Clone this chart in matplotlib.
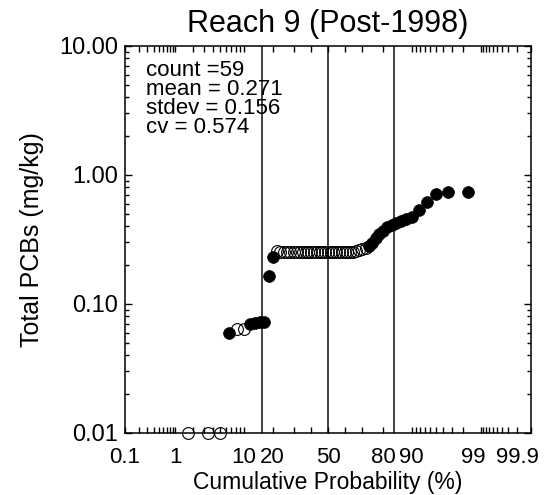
import numpy as np
import matplotlib
matplotlib.use('Agg')
import matplotlib.pyplot as plt
import matplotlib.ticker as ticker
import matplotlib.transforms as mtransforms
from statistics import NormalDist

# data (59 samples, sorted)
conc = [0.010, 0.010, 0.010, 0.060, 0.064, 0.064, 0.070, 0.071, 0.072, 0.073,
        0.164, 0.232, 0.258, 0.255, 0.255, 0.255, 0.255, 0.255, 0.255, 0.255,
        0.255, 0.255, 0.255, 0.255, 0.255, 0.255, 0.255, 0.255, 0.255, 0.255,
        0.255, 0.255, 0.255, 0.255, 0.255, 0.255, 0.255, 0.255, 0.255, 0.257,
        0.261, 0.266, 0.273, 0.284, 0.299, 0.322, 0.349, 0.371, 0.392, 0.410,
        0.428, 0.442, 0.455, 0.475, 0.534, 0.613, 0.708, 0.733, 0.743]
# 1 = detected (filled), 0 = non-detect (open)
detected = [0, 0, 0, 1, 0, 0, 1, 1, 1, 1,
            1, 1, 0, 0, 0, 0, 0, 0, 0, 0,
            0, 0, 0, 0, 0, 0, 0, 0, 0, 0,
            0, 0, 0, 0, 0, 0, 0, 0, 0, 0,
            0, 0, 0, 1, 1, 1, 1, 1, 1, 1,
            1, 1, 1, 1, 1, 1, 1, 1, 1]

stats_lines = ['count =59', 'mean = 0.271', 'stdev = 0.156', 'cv = 0.574']
sigma_lines = [15.87, 50.0, 84.13]

x_major = [0.1, 1, 10, 20, 50, 80, 90, 99, 99.9]
x_major_labels = ['0.1', '1', '10', '20', '50', '80', '90', '99', '99.9']
x_minor = [0.2, 0.3, 0.4, 0.5, 0.6, 0.7, 0.8, 0.9, 2, 3, 4, 5, 6, 7, 8, 9,
           30, 40, 60, 70, 91, 92, 93, 94, 95, 96, 97, 98,
           99.1, 99.2, 99.3, 99.4, 99.5, 99.6, 99.7, 99.8]
y_major = [0.01, 0.1, 1, 10]

nd = NormalDist()


def prob_forward(p):
    p = np.clip(np.asarray(p, dtype=float) / 100.0, 1e-9, 1 - 1e-9)
    return np.vectorize(nd.inv_cdf)(p)


def prob_inverse(z):
    return np.vectorize(nd.cdf)(np.asarray(z, dtype=float)) * 100.0


plt.rcParams['font.family'] = ['Liberation Sans', 'DejaVu Sans']

n = len(conc)
conc = np.array(conc)
detected = np.array(detected, dtype=bool)
# Weibull plotting position i/(n+1) in percent
prob = np.arange(1, n + 1) / (n + 1) * 100.0

fig = plt.figure(figsize=(5.57, 4.95), dpi=100)
ax = fig.add_axes([0.2244, 0.1253, 0.7289, 0.7818])

ax.set_xscale('function', functions=(prob_forward, prob_inverse))
ax.set_yscale('log')
ax.set_xlim(0.1, 99.9)
ax.set_ylim(0.01, 10)

for xv in sigma_lines:
    ax.axvline(xv, color='#333333', lw=1.3, zorder=1)

# non-detects open, detects filled
ax.plot(prob[~detected], conc[~detected], 'o', ms=8.5, mfc='none', mec='black',
        mew=0.8, clip_on=False, zorder=3)
ax.plot(prob[detected], conc[detected], 'o', ms=8.5, mfc='black', mec='black',
        mew=0.5, clip_on=False, zorder=4)

ax.xaxis.set_major_locator(ticker.FixedLocator(x_major))
ax.xaxis.set_major_formatter(ticker.FixedFormatter(x_major_labels))
ax.xaxis.set_minor_locator(ticker.FixedLocator(x_minor))
ax.xaxis.set_minor_formatter(ticker.NullFormatter())

ax.yaxis.set_major_locator(ticker.FixedLocator(y_major))
ax.yaxis.set_major_formatter(ticker.FormatStrFormatter('%.2f'))
ax.yaxis.set_minor_locator(ticker.LogLocator(base=10, subs=np.arange(2, 10)))
ax.yaxis.set_minor_formatter(ticker.NullFormatter())

ax.tick_params(which='both', direction='in', top=True, right=True, width=1.0,
               colors='black')
ax.tick_params(axis='x', which='both', length=4, pad=10, labelsize=16)
ax.tick_params(axis='y', which='major', length=5, pad=5, labelsize=17)
ax.tick_params(axis='y', which='minor', length=3)
for s in ax.spines.values():
    s.set_linewidth(1.1)

# the right-hand labels sit a little left of their ticks in the original
label_shift = {'90': -1, '99': -8, '99.9': -14}
fig.canvas.draw()
for lab in ax.get_xticklabels():
    dx = label_shift.get(lab.get_text(), 0)
    if dx:
        lab.set_transform(lab.get_transform() +
                          mtransforms.ScaledTranslation(dx / 100.0, 0, fig.dpi_scale_trans))

ax.set_title('Reach 9 (Post-1998)', fontsize=22, pad=10)
ax.set_xlabel('Cumulative Probability (%)', fontsize=16.5, labelpad=2)
ax.set_ylabel('Total PCBs (mg/kg)', fontsize=18)
ax.yaxis.set_label_coords(-0.2, 0.5)

for k, line in enumerate(stats_lines):
    ax.text(0.052, 0.922 - 0.049 * k, line, transform=ax.transAxes,
            fontsize=16, va='baseline', ha='left')

fig.savefig('out.png', dpi=100)
